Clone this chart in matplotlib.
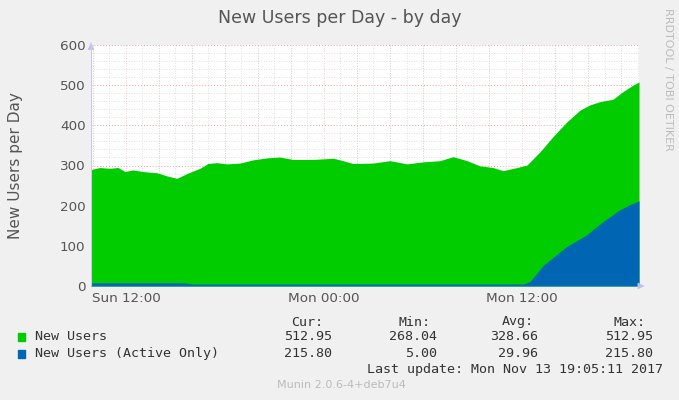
import matplotlib
matplotlib.use('Agg')
import matplotlib.pyplot as plt
from matplotlib.ticker import MultipleLocator

# hours counted from Sun 00:00
hours = [9.88, 10.42, 11.0, 11.52, 11.94, 12.42, 13.03, 13.5, 13.88, 14.48, 15.09,
         15.70, 16.48, 16.97, 17.52, 18.12, 18.91, 19.70, 20.55, 21.33, 22.12,
         23.33, 24.55, 24.97, 25.76, 26.97, 28.0, 29.03, 30.0, 31.03, 31.82,
         32.67, 33.45, 34.24, 34.85, 35.70, 36.30, 37.09, 37.88, 38.73, 39.52,
         40.12, 40.73, 41.52, 42.12, 42.73, 43.09]
new_users = [290, 295, 293, 295, 285, 289, 285, 283, 282, 274, 268,
             280, 293, 305, 307, 304, 306, 314, 319, 321, 315,
             315, 318, 314, 305, 306, 312, 304, 309, 312, 322,
             312, 299, 295, 287, 295, 301, 334, 372, 409, 438,
             451, 459, 465, 484, 500, 508]

active_hours = [9.88, 15.5, 16.0, 36.1, 36.5, 37.3, 38.7, 39.9, 40.9, 41.9, 42.5, 43.09]
active_users = [8, 8, 5, 5, 12, 52, 98, 127, 160, 189, 202, 212]

tick_hours = [12, 24, 36]
tick_labels = ['Sun 12:00', 'Mon 00:00', 'Mon 12:00']
yticks = [0, 100, 200, 300, 400, 500, 600]

legend_names = ['New Users', 'New Users (Active Only)']
legend_colors = ['#00CC00', '#0066B3']
stats_head = ['Cur:', 'Min:', 'Avg:', 'Max:']
stats = [['512.95', '268.04', '328.66', '512.95'],
         ['215.80', '5.00', '29.96', '215.80']]

W, H = 679, 400
fig = plt.figure(figsize=(W / 100, H / 100), dpi=100, facecolor='#F0F0F0')
ax = fig.add_axes([91 / W, 1 - 286 / H, (639 - 91) / W, (286 - 45) / H])
ax.set_facecolor('white')

ax.fill_between(hours, new_users, color=legend_colors[0], lw=0, zorder=2)
ax.fill_between(active_hours, active_users, color=legend_colors[1], lw=0, zorder=3)

ax.set_xlim(hours[0], hours[-1])
ax.set_ylim(0, 600)
ax.set_xticks(tick_hours)
ax.set_xticklabels(tick_labels)
ax.set_yticks(yticks)
ax.xaxis.set_minor_locator(MultipleLocator(1))
ax.yaxis.set_minor_locator(MultipleLocator(20))
ax.grid(which='minor', color='#D8D8D8', ls=(0, (1, 2)), lw=0.6, zorder=1)
ax.grid(which='major', axis='y', color='#F0A0A0', ls=(0, (1, 2)), lw=0.7, zorder=1)
for h in range(10, 44, 2):
    ax.axvline(h, color='#F0B8B8', ls=(0, (1, 2)), lw=0.6, zorder=1)
ax.tick_params(axis='both', which='both', length=0, labelsize=9.7, colors='#555555', pad=4)
for s in ax.spines.values():
    s.set_visible(False)
ax.axhline(0, color='#9090E0', lw=0.8, zorder=4)
ax.axvline(hours[0], color='#C8C8F0', lw=0.8, zorder=4)
ax.set_ylabel('New Users per Day', fontsize=11, color='#555555')
ax.yaxis.set_label_coords(-68 / 548, 0.5)

# arrows on axes like rrdtool
ax.annotate('', xy=(hours[0], 612), xytext=(hours[0], 598),
            arrowprops=dict(arrowstyle='-|>', color='#C0C0F0', lw=0.6), annotation_clip=False)
ax.annotate('', xy=(hours[-1] + 0.5, 0), xytext=(hours[-1], 0),
            arrowprops=dict(arrowstyle='-|>', color='#C0C0F0', lw=0.6), annotation_clip=False)

fig.text(340 / W, 1 - 18 / H, 'New Users per Day - by day', ha='center', va='center',
         fontsize=12.5, color='#555555')
fig.text(668 / W, 1 - 8 / H, 'RRDTOOL / TOBI OETIKER', ha='center', va='top',
         rotation=270, fontsize=8, color='#BBBBBB')

mono = 'DejaVu Sans Mono'
fs = 9.6
stat_x = [332, 437, 538, 653]
head_x = [307, 414, 518, 629]
for hx, t in zip(head_x, stats_head):
    fig.text(hx / W, 1 - 322 / H, t, ha='center', va='center', family=mono, fontsize=fs, color='#333333')
for i, (name, col) in enumerate(zip(legend_names, legend_colors)):
    y = 337 + i * 16.5
    fig.patches.append(plt.Rectangle((18 / W, 1 - (y + 4) / H), 7 / W, 8 / H,
                                     transform=fig.transFigure, color=col))
    fig.text(35 / W, 1 - y / H, name, ha='left', va='center', family=mono, fontsize=fs, color='#333333')
    for sx, v in zip(stat_x, stats[i]):
        fig.text(sx / W, 1 - y / H, v, ha='right', va='center', family=mono, fontsize=fs, color='#333333')
fig.text(663 / W, 1 - 370 / H, 'Last update: Mon Nov 13 19:05:11 2017', ha='right', va='center',
         family=mono, fontsize=fs, color='#333333')
fig.text(341 / W, 1 - 385 / H, 'Munin 2.0.6-4+deb7u4', ha='center', va='center',
         fontsize=8, color='#BBBBBB')

fig.savefig('out.png', dpi=100, facecolor=fig.get_facecolor())
